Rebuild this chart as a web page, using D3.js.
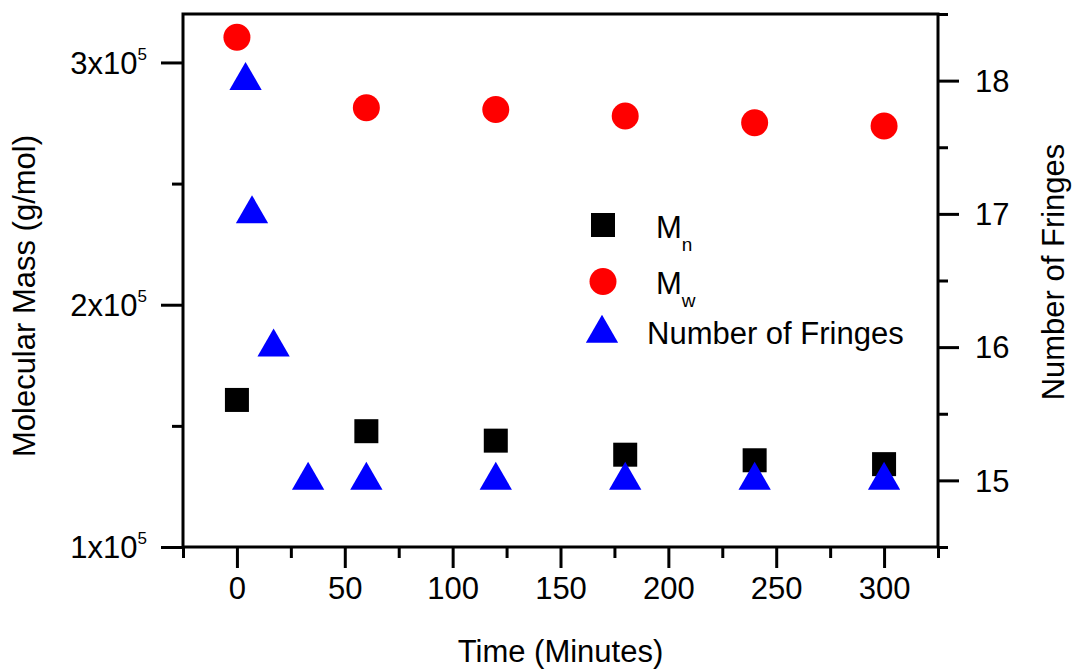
<!DOCTYPE html>
<html>
<head>
<meta charset="utf-8">
<script src="https://cdn.jsdelivr.net/npm/d3@7"></script>
<style>
  html, body { margin: 0; padding: 0; background: #fff; }
  svg text { font-family: "Liberation Sans", Arial, Helvetica, sans-serif; fill: #000; }
</style>
</head>
<body>
<svg id="chart" width="1072" height="671"></svg>
<script>
// ---- data ----
const time = [0, 60, 120, 180, 240, 300];
const mn = [160700, 147800, 143900, 138100, 135800, 134200];
const mw = [310400, 281300, 280600, 277900, 275100, 273800];
const fringeTime = [4, 7, 17, 33, 60, 120, 180, 240, 300];
const fringes = [18, 17, 16, 15, 15, 15, 15, 15, 15];

const xTicks = [0, 50, 100, 150, 200, 250, 300];
const xMinor = [-25, 25, 75, 125, 175, 225, 275, 325];
const yLeftTicks = [1e5, 2e5, 3e5];
const yLeftMinor = [1.5e5, 2.5e5];
const yRightTicks = [15, 16, 17, 18];
const yRightMinor = [14.5, 15.5, 16.5, 17.5, 18.5];

const legendLabels = [["M", "n"], ["M", "w"], ["Number of Fringes", ""]];

// ---- layout ----
const L = 183, R = 938, T = 14, B = 547;
const FS = 31;

const svg = d3.select("#chart");
const x = d3.scaleLinear().domain([-25, 325]).range([L, R]);
const yL = d3.scaleLinear().domain([1e5, 3.2e5]).range([B, T]);
const yR = d3.scaleLinear().domain([14.5, 18.5]).range([B, T]);

function styleAxis(g) {
  g.select(".domain").remove();
  g.selectAll(".tick line").attr("stroke", "#000").attr("stroke-width", 3);
  g.selectAll("text").attr("font-size", FS).attr("font-family", '"Liberation Sans", Arial, sans-serif');
}

// bottom axis
const gx = svg.append("g").attr("transform", `translate(0,${B})`);
gx.call(d3.axisBottom(x).tickValues(xTicks).tickSize(21).tickPadding(9).tickFormat(d3.format("d")));
styleAxis(gx);
const gxm = svg.append("g").attr("transform", `translate(0,${B})`);
gxm.call(d3.axisBottom(x).tickValues(xMinor).tickSize(11).tickFormat(""));
styleAxis(gxm);

// left axis
const gl = svg.append("g").attr("transform", `translate(${L},0)`);
gl.call(d3.axisLeft(yL).tickValues(yLeftTicks).tickSize(22).tickPadding(14).tickFormat(""));
styleAxis(gl);
gl.selectAll(".tick text").each(function(d) {
  const t = d3.select(this);
  t.text(null).attr("dy", "0.34em");
  t.append("tspan").text(`${Math.round(d / 1e5)}x10`);
  t.append("tspan").attr("font-size", 17).attr("dy", -14).text("5");
});
const glm = svg.append("g").attr("transform", `translate(${L},0)`);
glm.call(d3.axisLeft(yL).tickValues(yLeftMinor).tickSize(11).tickFormat(""));
styleAxis(glm);

// right axis
const gr = svg.append("g").attr("transform", `translate(${R},0)`);
gr.call(d3.axisRight(yR).tickValues(yRightTicks).tickSize(21).tickPadding(16).tickFormat(d3.format("d")));
styleAxis(gr);
gr.selectAll(".tick text").attr("dy", "0.35em");
const grm = svg.append("g").attr("transform", `translate(${R},0)`);
grm.call(d3.axisRight(yR).tickValues(yRightMinor).tickSize(10).tickFormat(""));
styleAxis(grm);

// frame
svg.append("rect").attr("x", L).attr("y", T).attr("width", R - L).attr("height", B - T)
  .attr("fill", "none").attr("stroke", "#000").attr("stroke-width", 3);

// axis titles
svg.append("text").attr("x", (L + R) / 2).attr("y", 662).attr("text-anchor", "middle")
  .attr("font-size", FS).text("Time (Minutes)");
svg.append("text").attr("transform", "translate(35,296) rotate(-90)").attr("text-anchor", "middle")
  .attr("font-size", FS).text("Molecular Mass (g/mol)");
svg.append("text").attr("transform", "translate(1064,272) rotate(-90)").attr("text-anchor", "middle")
  .attr("font-size", FS).text("Number of Fringes");

// markers
const SQ = 24, CR = 13.5;
const triSize = 452;
const tri = d3.symbol().type(d3.symbolTriangle).size(triSize);

svg.append("g").selectAll("rect").data(time).join("rect")
  .attr("x", (d) => x(d) - SQ / 2)
  .attr("y", (d, i) => yL(mn[i]) - SQ / 2)
  .attr("width", SQ).attr("height", SQ).attr("fill", "#000");

svg.append("g").selectAll("circle").data(time).join("circle")
  .attr("cx", (d) => x(d))
  .attr("cy", (d, i) => yL(mw[i]))
  .attr("r", CR).attr("fill", "#ff0000");

svg.append("g").selectAll("path").data(fringeTime).join("path")
  .attr("d", tri)
  .attr("transform", (d, i) => `translate(${x(d)},${yR(fringes[i])})`)
  .attr("fill", "#0000ff");

// legend
const lg = svg.append("g");
lg.append("rect").attr("x", 603 - SQ / 2).attr("y", 225 - SQ / 2).attr("width", SQ).attr("height", SQ).attr("fill", "#000");
lg.append("circle").attr("cx", 603).attr("cy", 281.5).attr("r", CR).attr("fill", "#ff0000");
lg.append("path").attr("d", tri).attr("transform", "translate(602,333.5)").attr("fill", "#0000ff");

const l1 = lg.append("text").attr("x", 656).attr("y", 238).attr("font-size", FS);
l1.append("tspan").text(legendLabels[0][0]);
l1.append("tspan").attr("font-size", 19).attr("dy", 13).text(legendLabels[0][1]);
const l2 = lg.append("text").attr("x", 656).attr("y", 294).attr("font-size", FS);
l2.append("tspan").text(legendLabels[1][0]);
l2.append("tspan").attr("font-size", 19).attr("dy", 13).text(legendLabels[1][1]);
lg.append("text").attr("x", 647).attr("y", 344).attr("font-size", FS).text(legendLabels[2][0]);
</script>
</body>
</html>
